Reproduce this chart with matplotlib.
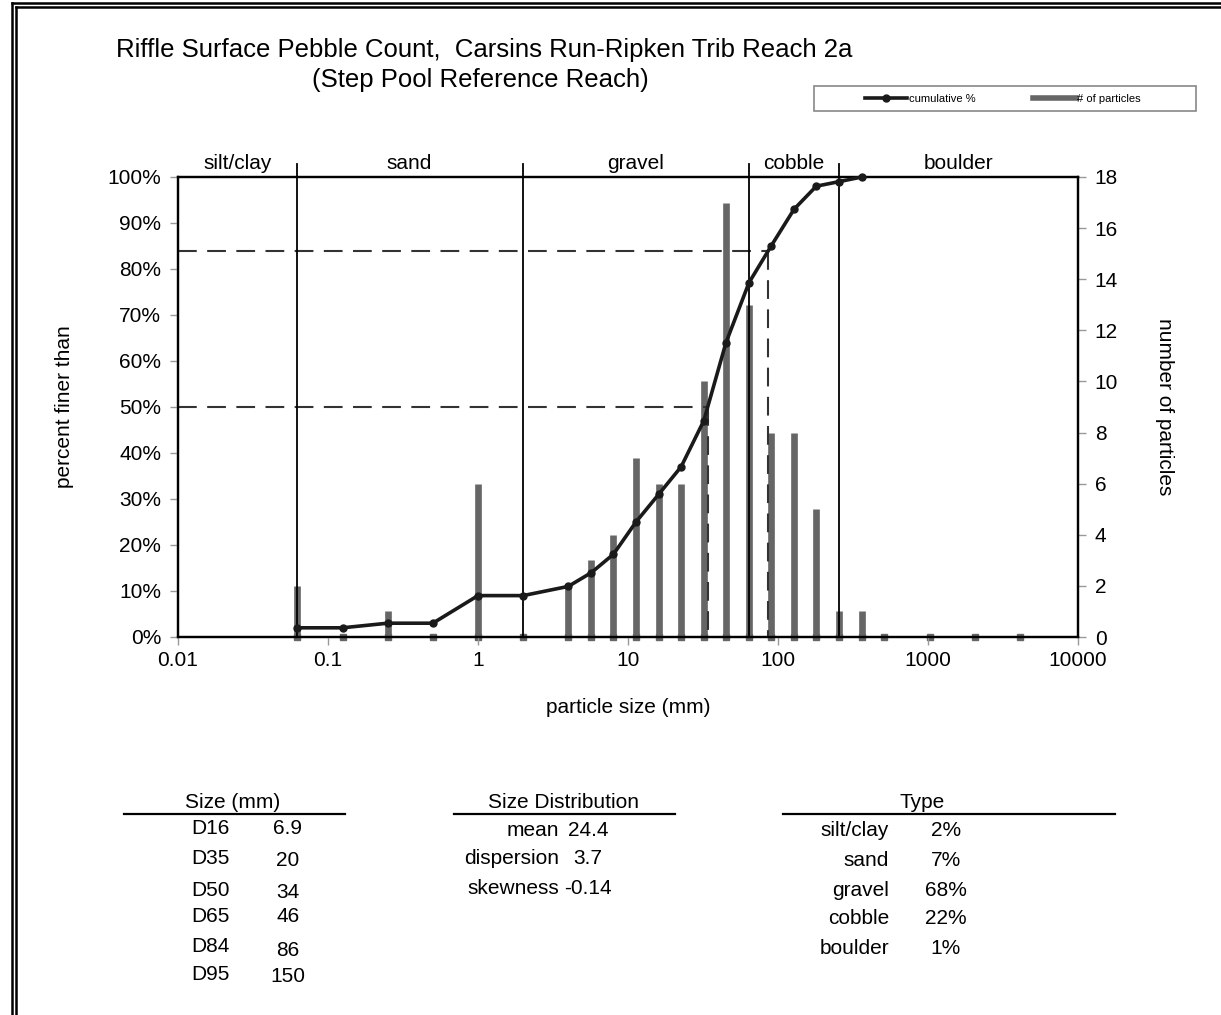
import numpy as np
import matplotlib
matplotlib.use('Agg')
import matplotlib.pyplot as plt
from matplotlib.lines import Line2D
from matplotlib.patches import Rectangle

plt.rcParams['font.family'] = ['Liberation Sans', 'DejaVu Sans']

W, H = 1221, 1015

# sieve sizes (mm) and particle counts
sizes = [0.062, 0.125, 0.25, 0.5, 1, 2, 4, 5.7, 8, 11.3, 16, 22.6, 32, 45,
         64, 90, 128, 180, 256, 362, 512, 1024, 2048, 4096]
counts = [2, 0, 1, 0, 6, 0, 2, 3, 4, 7, 6, 6, 10, 17,
          13, 8, 8, 5, 1, 1, 0, 0, 0, 0]
# cumulative percent finer (up to 362 mm)
cum_sizes = sizes[:20]
cum_pct = [2, 2, 3, 3, 9, 9, 11, 14, 18, 25, 31, 37, 47, 64,
           77, 85, 93, 98, 99, 100]

class_bounds = [0.062, 2, 64, 256]
class_names = ['silt/clay', 'sand', 'gravel', 'cobble', 'boulder']
class_mid = [0.025, 0.35, 11.3, 128, 1600]

d50, d84 = 34, 86

size_labels = ['D16', 'D35', 'D50', 'D65', 'D84', 'D95']
size_values = ['6.9', '20', '34', '46', '86', '150']
dist_labels = ['mean', 'dispersion', 'skewness']
dist_values = ['24.4', '3.7', '-0.14']
type_labels = ['silt/clay', 'sand', 'gravel', 'cobble', 'boulder']
type_values = ['2%', '7%', '68%', '22%', '1%']


def px(x, y):
    return x / W, 1 - y / H


fig = plt.figure(figsize=(W / 100, H / 100), dpi=100)
ax = fig.add_axes([178 / W, 1 - 637 / H, 900 / W, 460 / H])
ax2 = ax.twinx()

ax.set_xscale('log')
ax.set_xlim(0.01, 10000)
ax.set_ylim(0, 100)
ax2.set_ylim(0, 18)

# particle count bars
bars = ax2.vlines(sizes, 0, counts, color='#666666', lw=4.8)
bars.set_capstyle('butt')
ax2.plot(sizes, [0] * len(sizes), 's', color='#666666', ms=4, clip_on=False)

# D50 / D84 guide lines
for d, p in [(d50, 50), (d84, 84)]:
    ax.plot([0.01, d], [p, p], color='#333333', lw=1.5, dashes=(9, 5))
    ax.plot([d, d], [p, 0], color='#333333', lw=1.5, dashes=(9, 5))

# class boundaries
for b in class_bounds:
    ax.plot([b, b], [0, 102.8], color='black', lw=1.3, clip_on=False)
for name, xm in zip(class_names, class_mid):
    ax.text(xm, 100.8, name, ha='center', va='bottom', fontsize=15)

# cumulative curve
ax.plot(cum_sizes, cum_pct, '-o', color='#1a1a1a', lw=2.6, ms=5, zorder=6,
        clip_on=False)

ax.set_zorder(ax2.get_zorder() + 1)
ax.patch.set_visible(False)

ax.set_xticks([0.01, 0.1, 1, 10, 100, 1000, 10000])
ax.set_xticklabels(['0.01', '0.1', '1', '10', '100', '1000', '10000'])
ax.xaxis.set_minor_locator(plt.NullLocator())
ax.set_yticks(range(0, 101, 10))
ax.set_yticklabels([f'{v}%' for v in range(0, 101, 10)])
ax2.set_yticks(range(0, 19, 2))
for a in (ax, ax2):
    a.tick_params(labelsize=15, color='#999999', length=6, width=1, pad=6)
    for s in a.spines.values():
        s.set_linewidth(1.6)
ax.tick_params(axis='x', pad=4)

ax.set_xlabel('particle size (mm)', fontsize=15, labelpad=20)
ax.set_ylabel('percent finer than', fontsize=15, labelpad=24)
ax2.set_ylabel('number of particles', fontsize=15, rotation=270, labelpad=40)

# title
fig.text(*px(484, 50), 'Riffle Surface Pebble Count,  Carsins Run-Ripken Trib Reach 2a',
         ha='center', va='center', fontsize=18.5)
fig.text(*px(480, 80), '(Step Pool Reference Reach)', ha='center', va='center',
         fontsize=18.5)

# legend
fig.add_artist(Rectangle(px(814, 111), 382 / W, 25 / H, transform=fig.transFigure,
                         facecolor='white', edgecolor='#888888', lw=1.2))
handles = [Line2D([], [], color='#1a1a1a', lw=2.6, marker='o', ms=5),
           Line2D([], [], color='#666666', lw=4)]
leg = fig.legend(handles, ['cumulative %', '# of particles'], ncol=2,
                 loc='center', bbox_to_anchor=px(1003, 98.5), fontsize=8,
                 handlelength=3.8, columnspacing=5.2, frameon=False,
                 handletextpad=0.15)

# tables
fs = 15
for x0, x1 in [(124, 345), (454, 675), (783, 1115)]:
    fig.add_artist(Line2D([x0 / W, x1 / W], [1 - 814 / H] * 2, color='black', lw=1.6))
fig.text(*px(233, 802), 'Size (mm)', ha='center', va='center', fontsize=fs)
fig.text(*px(564, 802), 'Size Distribution', ha='center', va='center', fontsize=fs)
fig.text(*px(922, 802), 'Type', ha='center', va='center', fontsize=fs)

size_y = [828, 858, 890, 916, 947, 975]
size_vy = [828, 860, 892, 916, 951, 977]
for lab, val, y, vy in zip(size_labels, size_values, size_y, size_vy):
    fig.text(*px(191, y), lab, ha='left', va='center', fontsize=fs)
    fig.text(*px(288, vy), val, ha='center', va='center', fontsize=fs)

dist_y = [830, 858, 888]
for lab, val, y in zip(dist_labels, dist_values, dist_y):
    fig.text(*px(559, y), lab, ha='right', va='center', fontsize=fs)
    fig.text(*px(588, y), val, ha='center', va='center', fontsize=fs)

type_y = [830, 861, 890, 918, 948]
for lab, val, y in zip(type_labels, type_values, type_y):
    fig.text(*px(889, y), lab, ha='right', va='center', fontsize=fs)
    fig.text(*px(946, y), val, ha='center', va='center', fontsize=fs)

# double frame (left and top edges)
for xx in (12, 16):
    fig.add_artist(Line2D([xx / W] * 2, [0, 1 - (xx - 9) / H], color='black', lw=1.8))
for yy in (3, 7):
    fig.add_artist(Line2D([(yy + 9) / W, 1], [1 - yy / H] * 2, color='black', lw=1.8))

fig.savefig('out.png', dpi=100)
